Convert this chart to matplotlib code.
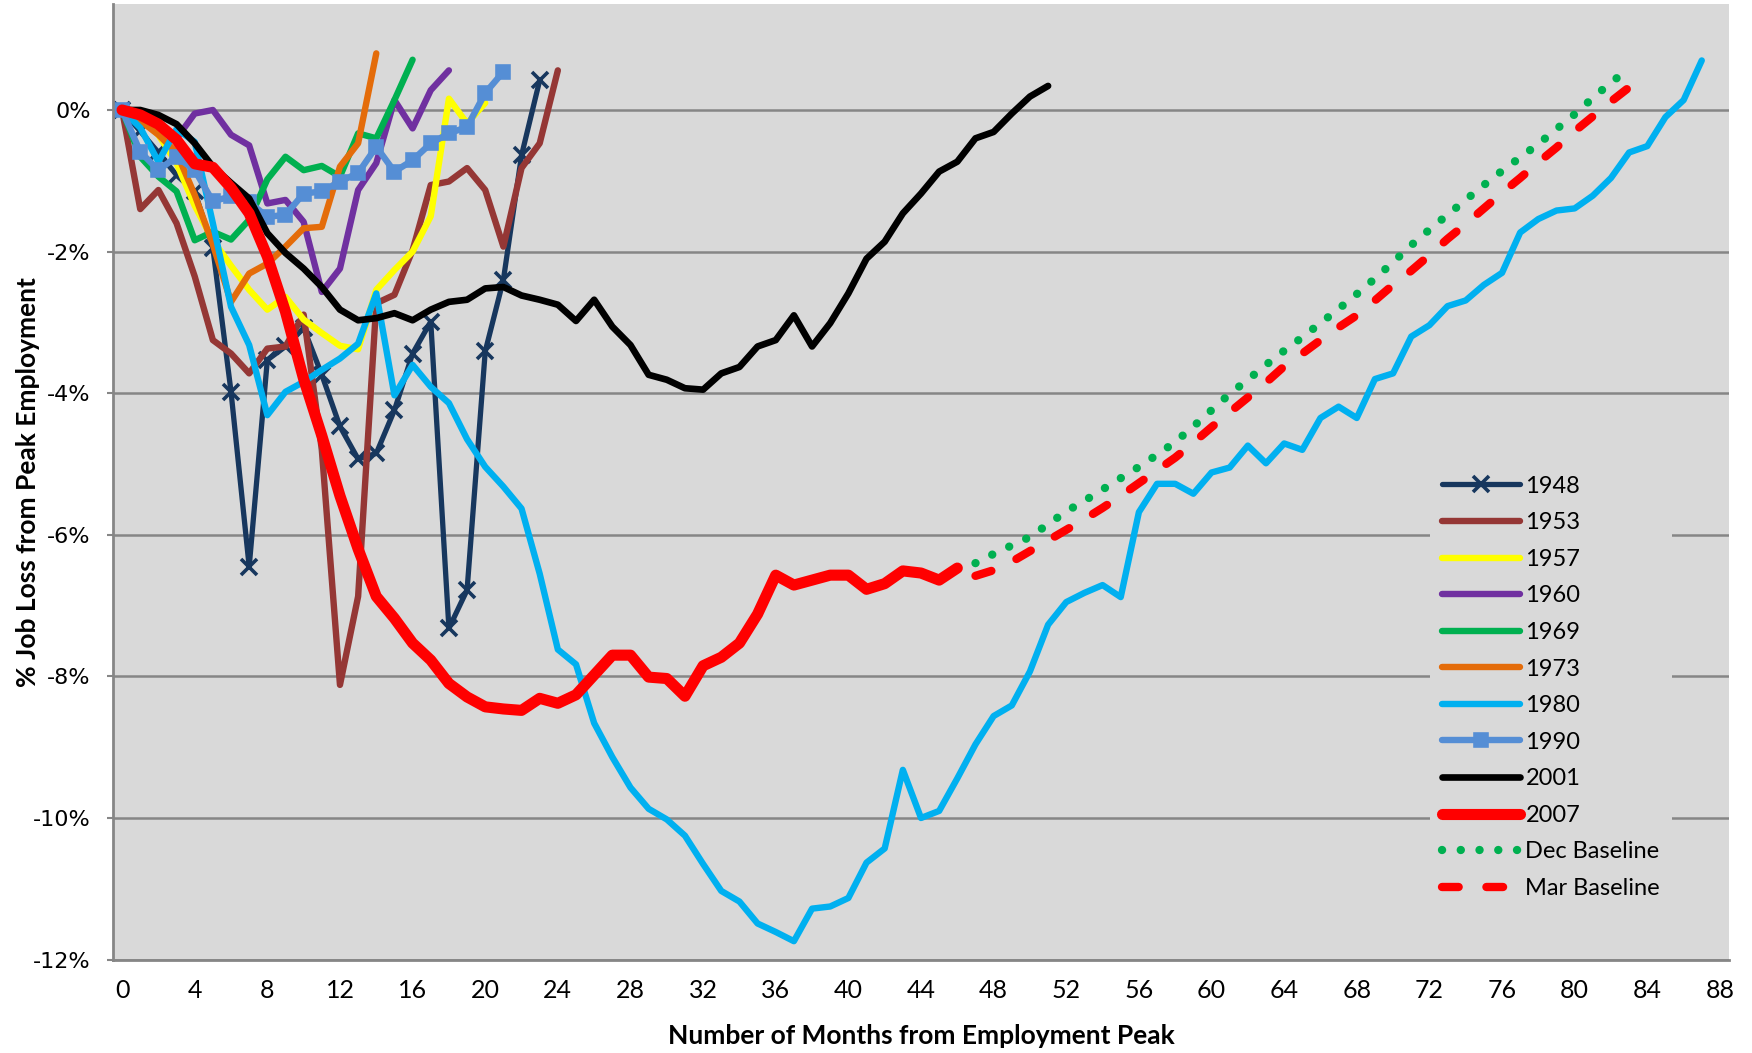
import matplotlib
matplotlib.use('Agg')
import matplotlib.pyplot as plt

plt.rcParams['font.family'] = ['Lato', 'DejaVu Sans']

# % job loss from peak, one value per month starting at month 0
y1948 = [0, -0.3, -0.6, -0.92, -1.15, -1.95, -3.98, -6.45, -3.53, -3.34, -3.08, -3.74,
         -4.47, -4.93, -4.85, -4.24, -3.44, -2.99, -7.32, -6.78, -3.41, -2.40, -0.64, 0.42]
y1953 = [0, -1.40, -1.13, -1.6, -2.35, -3.25, -3.44, -3.72, -3.37, -3.34, -2.89, -4.8,
         -8.12, -6.87, -2.73, -2.61, -1.98, -1.06, -1.01, -0.82, -1.13, -1.93, -0.82, -0.47, 0.56]
y1957 = [0, -0.1, -0.35, -0.75, -1.35, -1.84, -2.2, -2.54, -2.82, -2.64, -2.96, -3.15,
         -3.33, -3.38, -2.54, -2.26, -2.0, -1.5, 0.16, -0.19, 0.1]
y1960 = [0, -0.1, -0.25, -0.4, -0.05, 0.0, -0.35, -0.5, -1.32, -1.27, -1.58, -2.57,
         -2.24, -1.13, -0.75, 0.14, -0.26, 0.28, 0.56]
y1969 = [0, -0.66, -0.94, -1.15, -1.84, -1.72, -1.83, -1.55, -0.98, -0.66, -0.85, -0.79,
         -0.94, -0.33, -0.40, 0.14, 0.71]
y1973 = [0, -0.15, -0.35, -0.6, -1.2, -1.9, -2.71, -2.31, -2.17, -1.93, -1.67, -1.65,
         -0.80, -0.47, 0.80]
y1980 = [0, -0.25, -0.73, -0.27, -0.45, -1.6, -2.78, -3.32, -4.31, -3.98, -3.84, -3.67,
         -3.51, -3.30, -2.59, -4.03, -3.60, -3.91, -4.14, -4.65, -5.04, -5.32, -5.63, -6.55,
         -7.62, -7.83, -8.66, -9.14, -9.57, -9.87, -10.02, -10.25, -10.65, -11.03, -11.18, -11.49,
         -11.61, -11.74, -11.28, -11.25, -11.13, -10.63, -10.43, -9.32, -10.0, -9.90, -9.44, -8.96,
         -8.56, -8.41, -7.93, -7.27, -6.95, -6.82, -6.71, -6.88, -5.68, -5.28, -5.28, -5.42,
         -5.12, -5.05, -4.74, -4.99, -4.71, -4.80, -4.35, -4.19, -4.35, -3.80, -3.72, -3.20,
         -3.04, -2.77, -2.69, -2.47, -2.30, -1.73, -1.54, -1.42, -1.39, -1.21, -0.96, -0.60,
         -0.51, -0.10, 0.14, 0.70]
y1990 = [0, -0.59, -0.85, -0.66, -0.85, -1.29, -1.22, -1.3, -1.51, -1.48, -1.18, -1.15,
         -1.01, -0.89, -0.52, -0.87, -0.71, -0.47, -0.33, -0.24, 0.24, 0.54]
y2001 = [0, 0.0, -0.07, -0.2, -0.47, -0.8, -1.03, -1.25, -1.74, -2.02, -2.24, -2.50,
         -2.82, -2.97, -2.94, -2.87, -2.97, -2.82, -2.71, -2.68, -2.52, -2.50, -2.62, -2.68,
         -2.75, -2.98, -2.68, -3.06, -3.32, -3.74, -3.81, -3.93, -3.95, -3.72, -3.63, -3.34,
         -3.25, -2.90, -3.34, -3.01, -2.59, -2.10, -1.86, -1.46, -1.18, -0.87, -0.73, -0.40,
         -0.31, -0.05, 0.19, 0.34]
y2007 = [0, -0.07, -0.2, -0.42, -0.76, -0.81, -1.1, -1.46, -2.07, -2.85, -3.8, -4.6,
         -5.45, -6.2, -6.87, -7.18, -7.53, -7.77, -8.10, -8.29, -8.43, -8.46, -8.48, -8.31,
         -8.38, -8.26, -7.98, -7.70, -7.70, -8.01, -8.03, -8.28, -7.85, -7.73, -7.53, -7.12,
         -6.57, -6.71, -6.64, -6.57, -6.57, -6.77, -6.69, -6.51, -6.54, -6.64, -6.47]

base_months = list(range(47, 84))
dec_base = [-6.40, -6.27, -6.15, -6.03, -5.85, -5.67, -5.52, -5.36, -5.20, -5.04, -4.87, -4.69,
            -4.47, -4.24, -4.01, -3.81, -3.60, -3.40, -3.21, -3.01, -2.81, -2.60, -2.38, -2.15,
            -1.91, -1.69, -1.48, -1.27, -1.06, -0.86, -0.67, -0.48, -0.27, -0.06, 0.17, 0.39, 0.58]
mar_base = [-6.58, -6.50, -6.38, -6.23, -6.08, -5.93, -5.78, -5.62, -5.45, -5.27, -5.09, -4.91,
            -4.70, -4.48, -4.27, -4.06, -3.85, -3.62, -3.44, -3.25, -3.07, -2.90, -2.69, -2.47,
            -2.27, -2.05, -1.82, -1.61, -1.39, -1.17, -0.96, -0.74, -0.53, -0.30, -0.09, 0.12, 0.32]

x_ticks = list(range(0, 89, 4))
y_ticks = [0, -2, -4, -6, -8, -10, -12]

fig = plt.figure(figsize=(17.52, 10.53), dpi=100)
ax = fig.add_axes([113 / 1752, 1 - 959.6 / 1053, (1729 - 113) / 1752, (959.6 - 3.8) / 1053])
ax.set_facecolor('#D9D9D9')

series = [
    ('1948', y1948, '#17375E', 3.8, 'x', 11),
    ('1953', y1953, '#953735', 4.6, None, 0),
    ('1957', y1957, '#FFFF00', 4.6, None, 0),
    ('1960', y1960, '#7030A0', 4.6, None, 0),
    ('1969', y1969, '#00B050', 4.6, None, 0),
    ('1973', y1973, '#E46C0A', 4.6, None, 0),
    ('1980', y1980, '#00B0F0', 4.6, None, 0),
    ('1990', y1990, '#558ED5', 4.6, 's', 8),
    ('2001', y2001, '#000000', 4.8, None, 0),
    ('2007', y2007, '#FF0000', 8.0, None, 0),
]

for label, vals, color, lw, marker, ms in series:
    ax.plot(range(len(vals)), vals, color=color, lw=lw, marker=marker, ms=ms,
            mew=2.6, solid_capstyle='round', solid_joinstyle='round', label=label)

ax.plot(base_months, dec_base, color='#00B050', lw=6.0, linestyle=(0, (0.01, 2.24)),
        dash_capstyle='round', label='Dec Baseline')
ax.plot(base_months, mar_base, color='#FF0000', lw=6.0, linestyle=(0, (2.0, 3.33)),
        dash_capstyle='round', label='Mar Baseline')

ax.set_xlim(-0.5, 88.5)
ax.set_ylim(-12, 1.5)
ax.set_xticks(x_ticks)
ax.set_xticklabels([str(t) for t in x_ticks], fontsize=18)
ax.set_yticks(y_ticks)
ax.set_yticklabels([f'{t}%' for t in y_ticks], fontsize=16, family='DejaVu Sans')
ax.tick_params(axis='x', length=0, pad=14)
ax.tick_params(axis='y', length=4, width=1.5, color='#868686', pad=12)

ax.yaxis.grid(True, color='#868686', lw=1.8)
ax.set_axisbelow(True)
for side in ['top', 'right']:
    ax.spines[side].set_visible(False)
for side in ['left', 'bottom']:
    ax.spines[side].set_color('#868686')
    ax.spines[side].set_linewidth(2)

ax.set_xlabel('Number of Months from Employment Peak', fontsize=19, fontweight='bold',
              va='center')
ax.xaxis.set_label_coords(0.5, -0.08)
ax.set_ylabel('% Job Loss from Peak Employment', fontsize=19, fontweight='bold',
              va='center')
ax.yaxis.set_label_coords(-0.0526, 0.5)

leg = ax.legend(loc='upper left', bbox_to_anchor=(1418 / 1752, 1 - 452 / 1053),
                bbox_transform=fig.transFigure, frameon=True, facecolor='#D9D9D9',
                edgecolor='none', framealpha=1, fancybox=False, handlelength=3.3,
                handletextpad=0.25, labelspacing=0.66, borderpad=0.5, fontsize=17, numpoints=1)

fig.savefig('out.png', dpi=100)
